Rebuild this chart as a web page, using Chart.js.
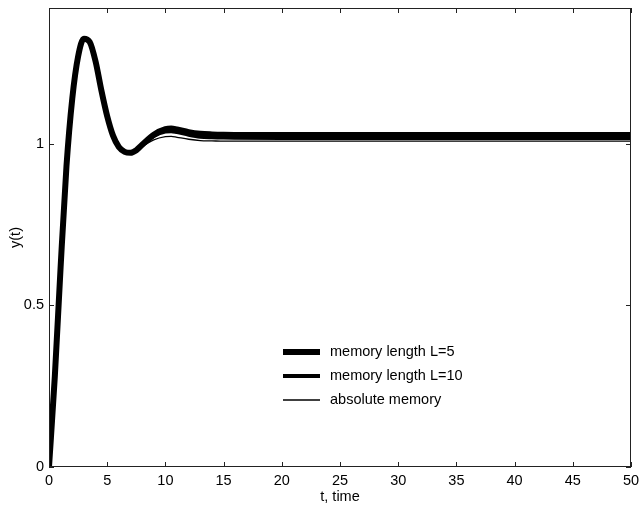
<!DOCTYPE html>
<html>
<head>
<meta charset="utf-8">
<script src="https://cdn.jsdelivr.net/npm/chart.js@4"></script>
<style>
  html, body { margin: 0; padding: 0; background: #fff; }
  #wrap { width: 641px; height: 509px; }
</style>
</head>
<body>
<div id="wrap"><canvas id="myChart" width="641" height="509"></canvas></div>
<script>
'use strict'

// time axis samples
var tValues = [0, 0.5, 1, 1.5, 2, 2.5, 3, 3.5, 4, 4.5, 5, 5.5, 6, 6.5, 7, 7.5, 8, 9, 10, 10.5, 11, 12, 13, 14, 15, 20, 25, 30, 35, 40, 45, 50];

// responses
var memL5  = [0, 0.28, 0.62, 0.93, 1.14, 1.27, 1.325, 1.315, 1.255, 1.165, 1.085, 1.025, 0.99, 0.975, 0.972, 0.98, 0.997, 1.028, 1.045, 1.047, 1.044, 1.036, 1.031, 1.029, 1.028, 1.027, 1.027, 1.027, 1.027, 1.027, 1.027, 1.027];
var memL10 = [0, 0.28, 0.62, 0.93, 1.14, 1.27, 1.325, 1.315, 1.255, 1.165, 1.085, 1.025, 0.99, 0.975, 0.972, 0.98, 0.995, 1.024, 1.038, 1.039, 1.036, 1.028, 1.022, 1.02, 1.019, 1.018, 1.018, 1.018, 1.018, 1.018, 1.018, 1.018];
var memAbs = [0, 0.27, 0.61, 0.92, 1.13, 1.265, 1.32, 1.31, 1.25, 1.16, 1.08, 1.02, 0.986, 0.971, 0.968, 0.975, 0.99, 1.012, 1.022, 1.023, 1.02, 1.014, 1.01, 1.009, 1.008, 1.008, 1.008, 1.008, 1.008, 1.008, 1.008, 1.008];

var seriesLabels = ["memory length L=5", "memory length L=10", "absolute memory"];
var seriesWidths = [6, 4, 1.3];
var xTicks = [0, 5, 10, 15, 20, 25, 30, 35, 40, 45, 50];
var yTicks = [0, 0.5, 1];

function points(ys) {
  return tValues.map(function (t, i) { return {x: t, y: ys[i]}; });
}

var font = {family: "'Liberation Sans', Arial, sans-serif", size: 14.5};

// matlab style box, inward ticks and legend
var matlabBox = {
  id: 'matlabBox',
  afterDraw: function (chart) {
    var c = chart.ctx, a = chart.chartArea;
    var xs = chart.scales.x, ys = chart.scales.y;
    c.save();
    c.strokeStyle = '#222';
    c.lineWidth = 1;
    c.strokeRect(a.left + 0.5, a.top + 0.5, a.right - a.left - 1, a.bottom - a.top - 1);
    c.beginPath();
    xTicks.forEach(function (v) {
      var px = Math.round(xs.getPixelForValue(v)) + 0.5;
      c.moveTo(px, a.bottom); c.lineTo(px, a.bottom - 5);
      c.moveTo(px, a.top); c.lineTo(px, a.top + 5);
    });
    yTicks.forEach(function (v) {
      var py = Math.round(ys.getPixelForValue(v)) + 0.5;
      c.moveTo(a.left, py); c.lineTo(a.left + 5, py);
      c.moveTo(a.right, py); c.lineTo(a.right - 5, py);
    });
    c.stroke();

    // legend
    var lx = 283, ly = 352;
    c.font = font.size + 'px ' + font.family;
    c.fillStyle = '#000';
    c.textBaseline = 'middle';
    seriesLabels.forEach(function (lab, i) {
      var y = ly + i * 24;
      c.beginPath();
      c.lineWidth = seriesWidths[i];
      c.strokeStyle = '#000';
      c.moveTo(lx, y); c.lineTo(lx + 37, y);
      c.stroke();
      c.fillText(lab, lx + 47, y);
    });
    c.restore();
  }
};

var ctx = document.getElementById("myChart");

var chart = new Chart(ctx, {
  type: 'line',
  data: {
    datasets: [
      {label: seriesLabels[0], data: points(memL5), borderWidth: seriesWidths[0]},
      {label: seriesLabels[1], data: points(memL10), borderWidth: seriesWidths[1]},
      {label: seriesLabels[2], data: points(memAbs), borderWidth: seriesWidths[2]}
    ].map(function (d) {
      d.borderColor = '#000';
      d.pointRadius = 0;
      d.fill = false;
      d.cubicInterpolationMode = 'monotone';
      d.borderCapStyle = 'round';
      d.borderJoinStyle = 'round';
      return d;
    })
  },
  options: {
    responsive: false,
    animation: false,
    layout: {padding: {top: 8, right: 10, left: 0, bottom: 0}},
    plugins: {legend: {display: false}, tooltip: {enabled: false}},
    scales: {
      x: {
        type: 'linear', min: 0, max: 50,
        grid: {display: false, drawTicks: false},
        border: {display: false},
        afterBuildTicks: function (s) { s.ticks = xTicks.map(function (v) { return {value: v}; }); },
        afterFit: function (s) { s.height = 42; s.paddingLeft = 0; s.paddingRight = 0; },
        ticks: {color: '#000', font: font, padding: 5, maxRotation: 0, autoSkip: false},
        title: {display: true, text: 't, time', color: '#000', font: font, padding: {top: 0, bottom: 3}}
      },
      y: {
        min: 0, max: 1.42,
        grid: {display: false, drawTicks: false},
        border: {display: false},
        afterBuildTicks: function (s) { s.ticks = yTicks.map(function (v) { return {value: v}; }); },
        afterFit: function (s) { s.width = 49; s.paddingTop = 0; s.paddingBottom = 0; },
        ticks: {color: '#000', font: font, padding: 5, callback: function (v) { return String(v); }},
        title: {display: true, text: 'y(t)', color: '#000', font: font, padding: {top: 7, bottom: 0}}
      }
    }
  },
  plugins: [matlabBox]
});
</script>
</body>
</html>
